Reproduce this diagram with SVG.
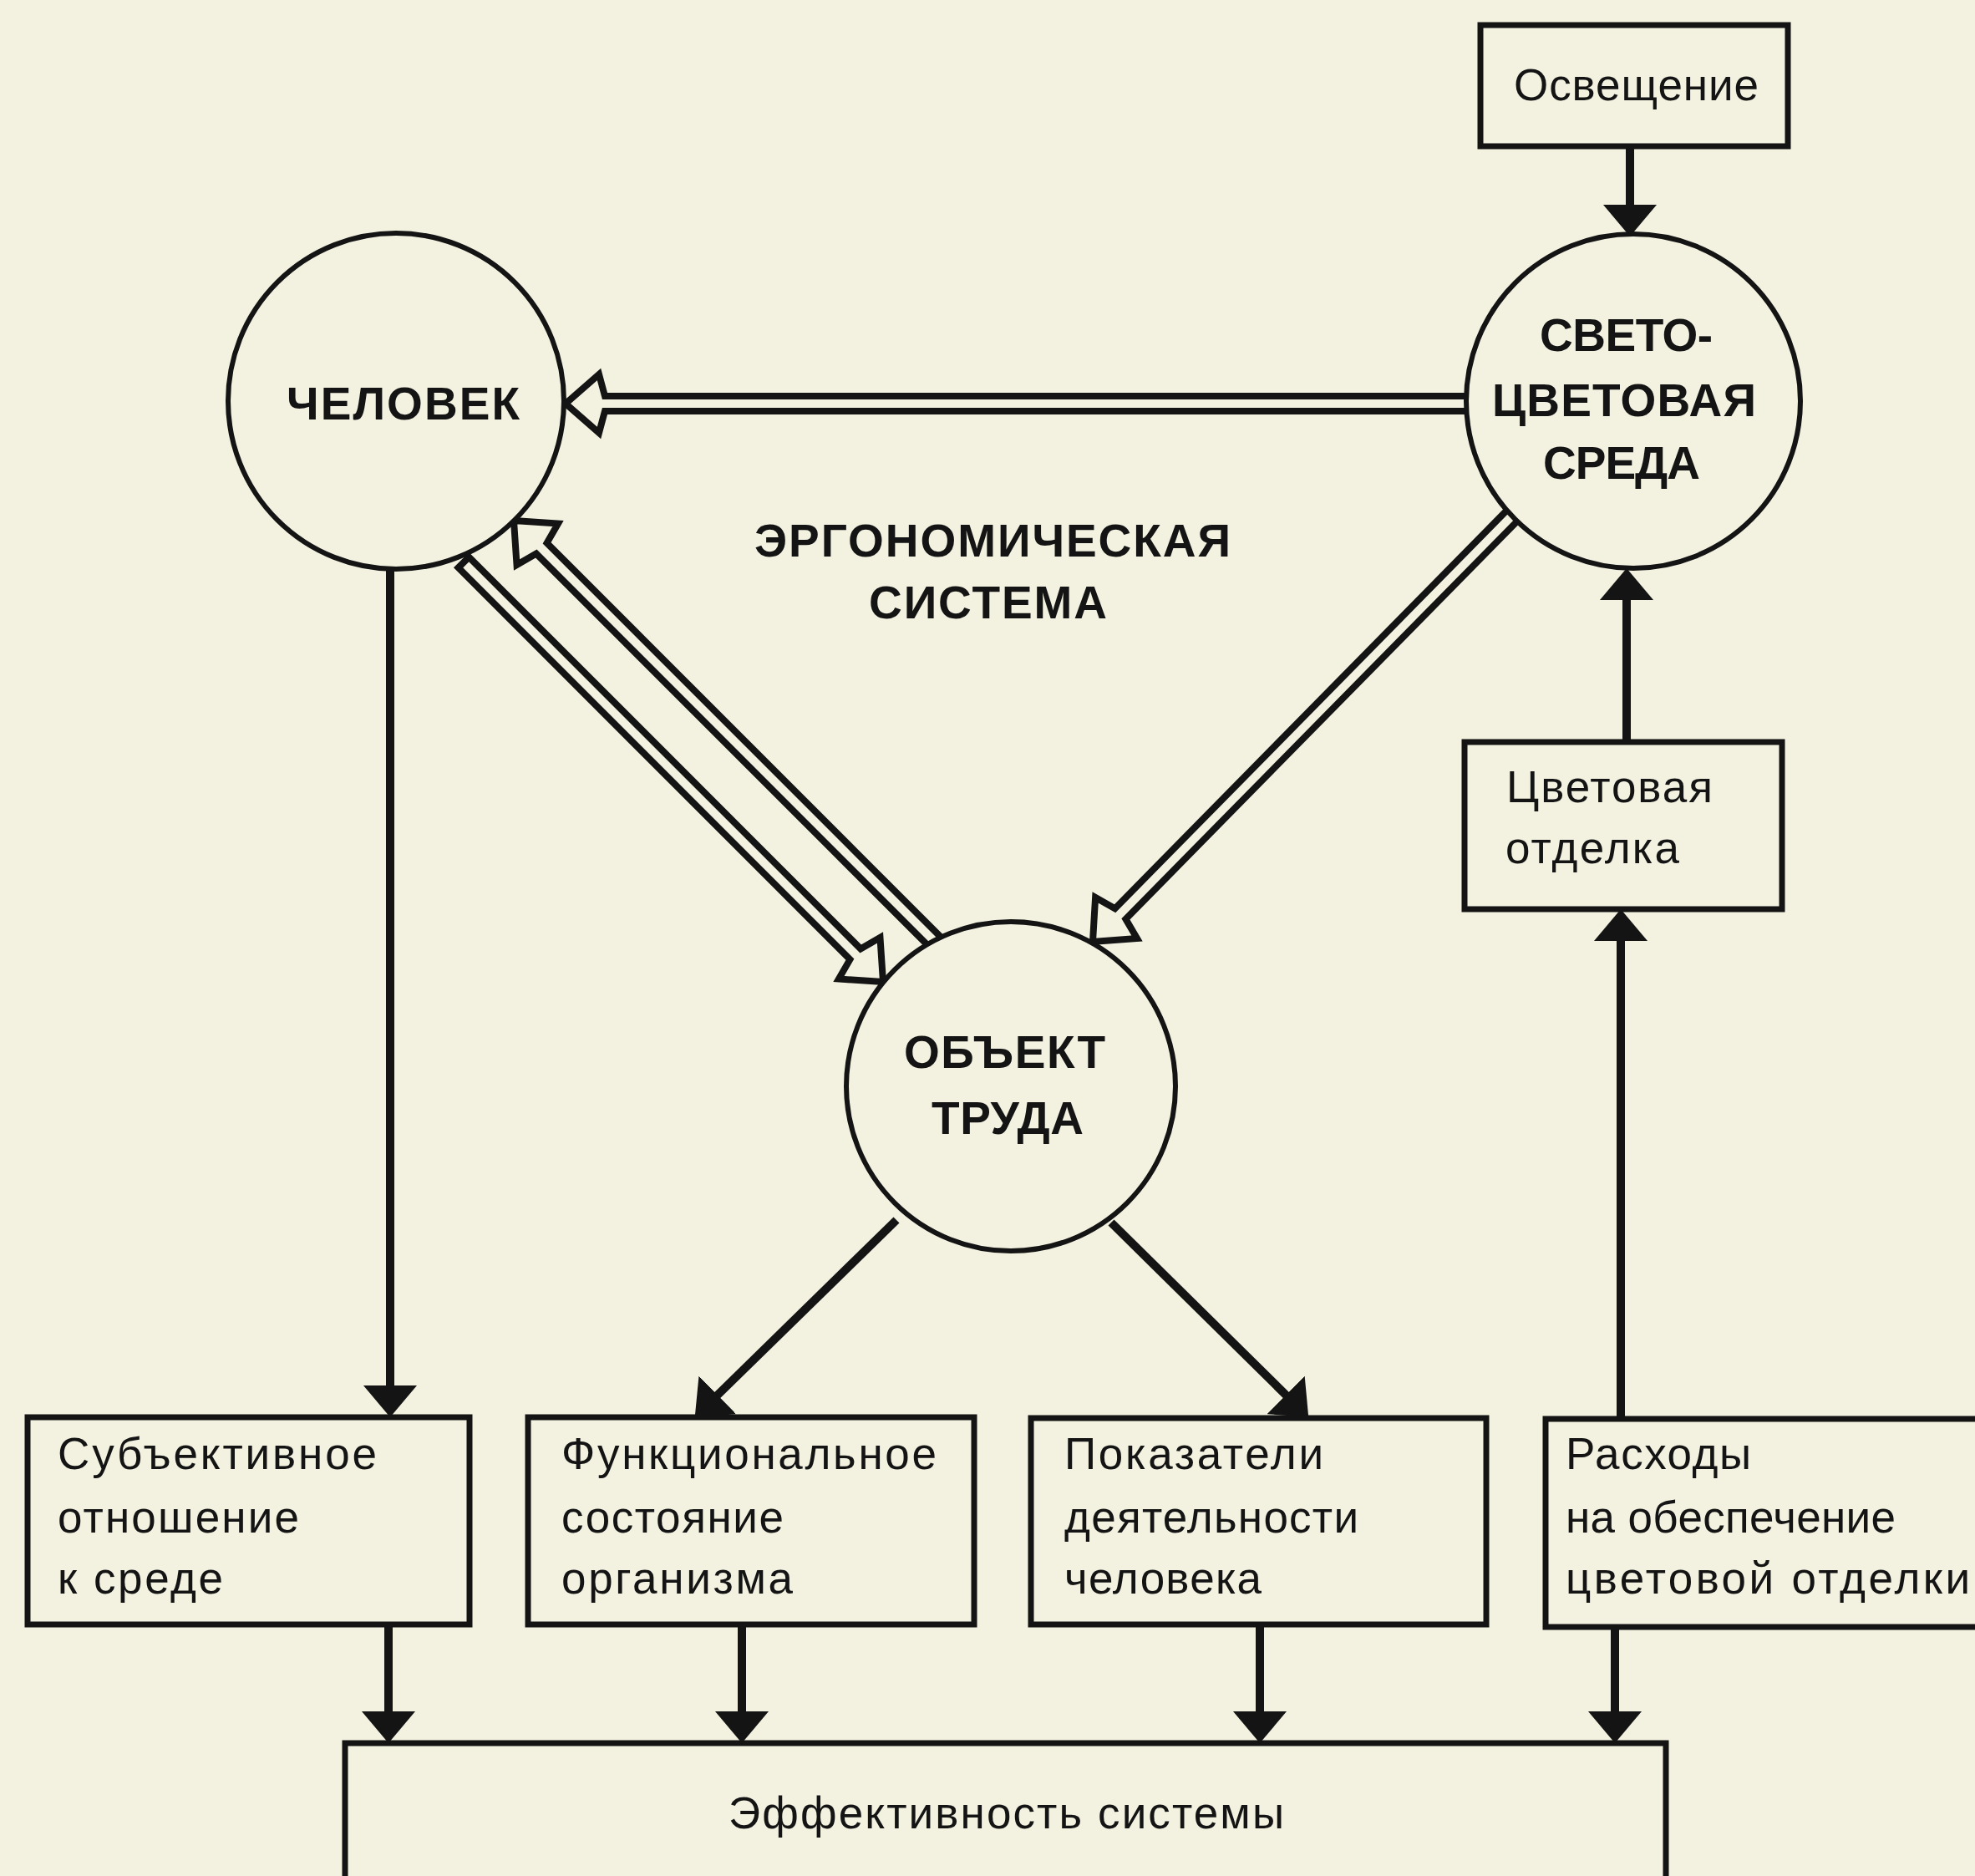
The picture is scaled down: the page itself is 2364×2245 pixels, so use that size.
<svg xmlns="http://www.w3.org/2000/svg" width="2364" height="2245" viewBox="0 0 2364 2245">
<defs>
<marker id="ah" markerUnits="userSpaceOnUse" markerWidth="40" markerHeight="64" refX="18" refY="32" orient="auto" viewBox="0 0 40 64">
<path d="M0,0 L38,32 L0,64 Z" fill="#141414"/>
</marker>
</defs>
<style>
.bg{fill:#f3f2e1}
.box{fill:#f3f2e1;stroke:#141414;stroke-width:7}
.circ{fill:#f3f2e1;stroke:#141414;stroke-width:6}
.ln{stroke:#141414;stroke-width:10;fill:none;marker-end:url(#ah)}
.hol{fill:#f3f2e1;stroke:#141414;stroke-width:8;stroke-linejoin:miter;stroke-miterlimit:10}
.t{font-family:"Liberation Sans",Arial,sans-serif;font-size:53px;fill:#141414}
.b{font-family:"Liberation Sans",Arial,sans-serif;font-size:55px;font-weight:bold;fill:#141414}
</style>
<rect class="bg" x="0" y="0" width="2364" height="2245"/>

<g id="connectors">
<line class="ln" x1="1951" y1="175" x2="1951" y2="263"/>
<line class="ln" x1="1947" y1="888" x2="1947" y2="700"/>
<line class="ln" x1="1940" y1="1698" x2="1940" y2="1108"/>
<line class="ln" x1="467" y1="681" x2="467" y2="1676"/>
<line class="ln" x1="1073" y1="1460" x2="846" y2="1682"/>
<line class="ln" x1="1330" y1="1463" x2="1552" y2="1682"/>
<line class="ln" x1="465" y1="1944" x2="465" y2="2066"/>
<line class="ln" x1="888" y1="1944" x2="888" y2="2066"/>
<line class="ln" x1="1508" y1="1944" x2="1508" y2="2066"/>
<line class="ln" x1="1933" y1="1947" x2="1933" y2="2066"/>
<path class="hol" transform="translate(677,483)" d="M0,0 L40,-35 L47,-9 L1090,-9 L1090,9 L47,9 L40,35 Z"/>
<path class="hol" transform="translate(1057,1175) rotate(225)" d="M0,0 L40,-35 L47,-9 L710,-9 L710,9 L47,9 L40,35 Z"/>
<path class="hol" transform="translate(615,623) rotate(45)" d="M0,0 L40,-35 L47,-9 L718,-9 L718,9 L47,9 L40,35 Z"/>
<path class="hol" transform="translate(1308,1127) rotate(-45.45)" d="M0,0 L40,-35 L47,-9 L722,-9 L722,9 L47,9 L40,35 Z"/>
</g>

<g id="n-osveshchenie">
<rect class="box" x="1772" y="30" width="368" height="145"/>
<text class="t" x="1812" y="120" textLength="293" lengthAdjust="spacing">Освещение</text>
</g>

<g id="n-chelovek">
<circle class="circ" cx="474" cy="480" r="201"/>
<text class="b" x="343" y="502" textLength="279" lengthAdjust="spacing">ЧЕЛОВЕК</text>
</g>

<g id="n-sreda">
<circle class="circ" cx="1955" cy="480" r="200"/>
<text class="b" x="1843" y="420" textLength="207" lengthAdjust="spacing">СВЕТО-</text>
<text class="b" x="1786" y="498" textLength="316" lengthAdjust="spacing">ЦВЕТОВАЯ</text>
<text class="b" x="1847" y="573" textLength="188" lengthAdjust="spacing">СРЕДА</text>
</g>

<g id="n-obekt">
<circle class="circ" cx="1210" cy="1300" r="197"/>
<text class="b" x="1082" y="1278" textLength="241" lengthAdjust="spacing">ОБЪЕКТ</text>
<text class="b" x="1115" y="1357" textLength="182" lengthAdjust="spacing">ТРУДА</text>
</g>

<g id="label-ergo">
<text class="b" x="903" y="666" textLength="570" lengthAdjust="spacing">ЭРГОНОМИЧЕСКАЯ</text>
<text class="b" x="1040" y="740" textLength="285" lengthAdjust="spacing">СИСТЕМА</text>
</g>

<g id="n-otdelka">
<rect class="box" x="1753" y="888" width="380" height="200"/>
<text class="t" x="1803" y="960" textLength="247" lengthAdjust="spacing">Цветовая</text>
<text class="t" x="1802" y="1033" textLength="208" lengthAdjust="spacing">отделка</text>
</g>

<g id="n-subj">
<rect class="box" x="33" y="1696" width="529" height="248"/>
<text class="t" x="69" y="1758" textLength="382" lengthAdjust="spacing">Субъективное</text>
<text class="t" x="69" y="1834" textLength="289" lengthAdjust="spacing">отношение</text>
<text class="t" x="69" y="1907" textLength="198" lengthAdjust="spacing">к среде</text>
</g>

<g id="n-func">
<rect class="box" x="632" y="1696" width="534" height="248"/>
<text class="t" x="672" y="1758" textLength="449" lengthAdjust="spacing">Функциональное</text>
<text class="t" x="672" y="1834" textLength="266" lengthAdjust="spacing">состояние</text>
<text class="t" x="672" y="1907" textLength="277" lengthAdjust="spacing">организма</text>
</g>

<g id="n-pokaz">
<rect class="box" x="1234" y="1697" width="545" height="247"/>
<text class="t" x="1274" y="1758" textLength="310" lengthAdjust="spacing">Показатели</text>
<text class="t" x="1274" y="1834" textLength="352" lengthAdjust="spacing">деятельности</text>
<text class="t" x="1274" y="1907" textLength="236" lengthAdjust="spacing">человека</text>
</g>

<g id="n-rashody">
<rect class="box" x="1850" y="1698" width="540" height="249"/>
<text class="t" x="1874" y="1758" textLength="222" lengthAdjust="spacing">Расходы</text>
<text class="t" x="1874" y="1834" textLength="395" lengthAdjust="spacing">на обеспечение</text>
<text class="t" x="1874" y="1907" textLength="484" lengthAdjust="spacing">цветовой отделки</text>
</g>

<g id="n-effekt">
<rect class="box" x="413" y="2086" width="1581" height="200"/>
<text class="t" x="872" y="2188" textLength="665" lengthAdjust="spacing">Эффективность системы</text>
</g>
</svg>
